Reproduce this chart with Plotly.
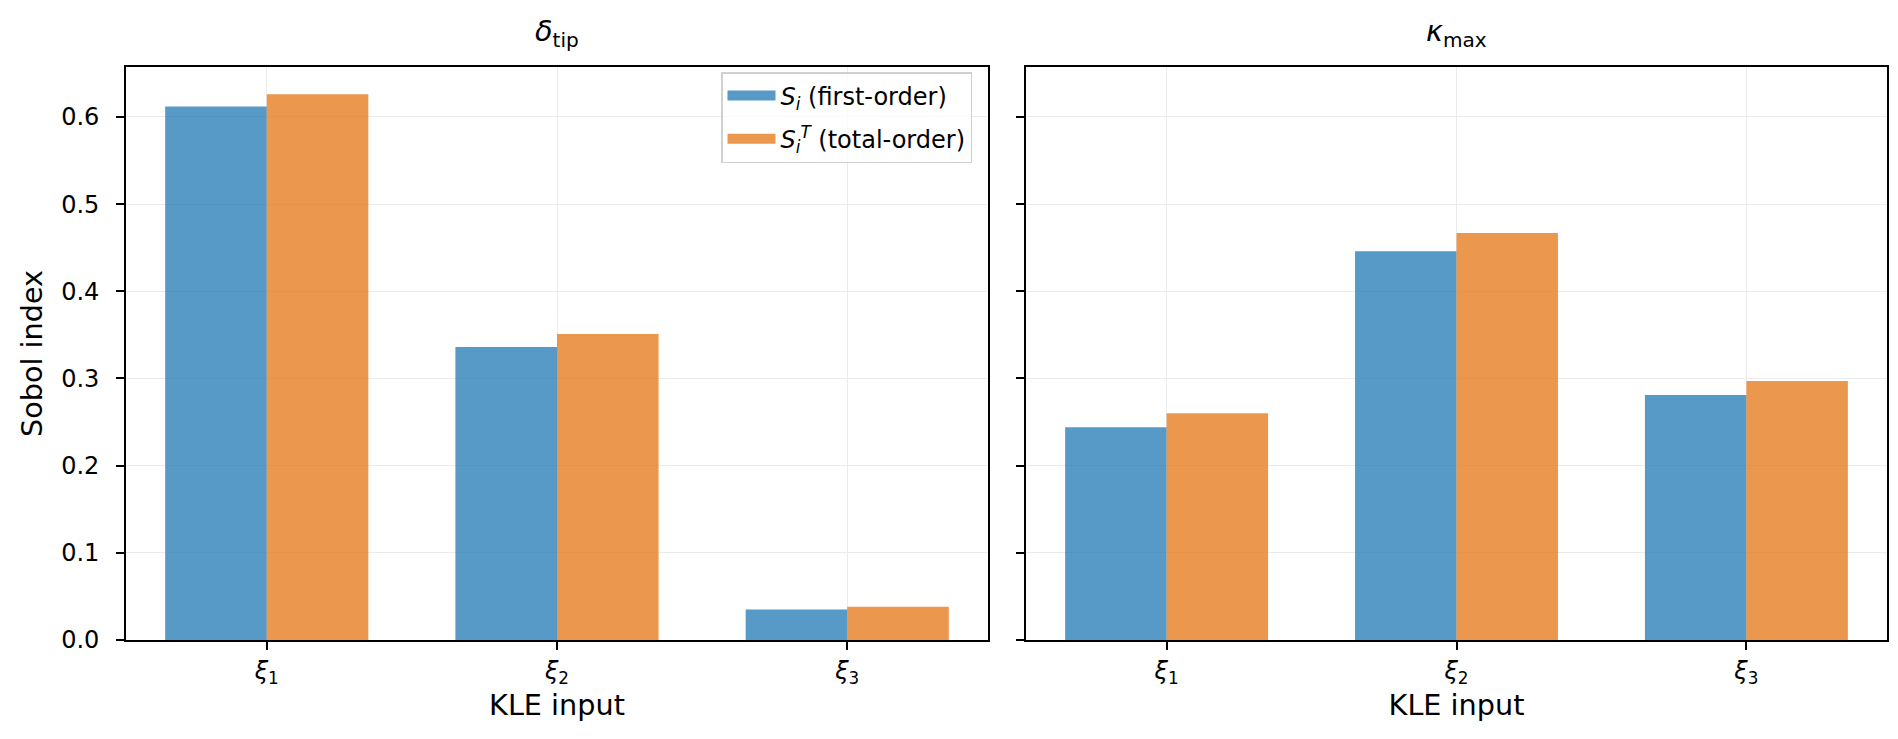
import plotly.graph_objects as go

categories = ["ξ1", "ξ2", "ξ3"]
tick_labels = ["<i>ξ</i><sub>1</sub>", "<i>ξ</i><sub>2</sub>", "<i>ξ</i><sub>3</sub>"]
positions = [0, 1, 2]

delta_first = [0.612, 0.336, 0.035]
delta_total = [0.626, 0.351, 0.038]
kappa_first = [0.244, 0.446, 0.281]
kappa_total = [0.260, 0.467, 0.297]

series_names = ["<i>S</i><sub><i>i</i></sub> (first-order)",
                "<i>S</i><sub><i>i</i></sub><sup><i>T</i></sup> (total-order)"]
panel_titles = ["<i>δ</i><sub>tip</sub>", "<i>κ</i><sub>max</sub>"]

W, H = 1898, 739
BLUE = "rgba(31,119,180,0.75)"
ORANGE = "rgba(230,126,34,0.8)"
FONT = "DejaVu Sans"

fig = go.Figure()
bw = 0.35
for i, (first, total) in enumerate([(delta_first, delta_total), (kappa_first, kappa_total)]):
    xa = "x" if i == 0 else "x2"
    ya = "y" if i == 0 else "y2"
    fig.add_trace(go.Bar(x=positions, y=first, width=bw, offset=-bw, marker_color=BLUE,
                         marker_line_width=0, name=series_names[0], showlegend=False,
                         xaxis=xa, yaxis=ya))
    fig.add_trace(go.Bar(x=positions, y=total, width=bw, offset=0, marker_color=ORANGE,
                         marker_line_width=0, name=series_names[1], showlegend=False,
                         xaxis=xa, yaxis=ya))

# legend entries (wide rectangular swatches like the reference)
for name, col, grp in zip(series_names, [BLUE, ORANGE], ["a", "b"]):
    fig.add_trace(go.Scatter(x=[None], y=[None], mode="lines", line=dict(color=col, width=17),
                             name=name, legendgroup=grp, showlegend=True, hoverinfo="skip"))

ymax = max(delta_total + kappa_total) * 1.05
dom_y = [1 - 632 / H, 1 - 59 / H]
dom_x1 = [118 / W, 980 / W]
dom_x2 = [1018 / W, 1879 / W]

axis_common = dict(showline=True, linecolor="black", linewidth=1.8, mirror=True,
                   ticks="outside", ticklen=8, tickwidth=1.6, tickcolor="black",
                   showgrid=True, gridcolor="#ebebeb", gridwidth=1.3, zeroline=False,
                   automargin=False, tickfont=dict(family=FONT, size=24, color="black"))

xaxis = dict(axis_common, range=[-0.485, 2.485], tickvals=positions, ticktext=tick_labels,
             title=dict(text="KLE input", font=dict(family=FONT, size=28.7, color="black"), standoff=3),
             ticklabelstandoff=0)
yaxis = dict(axis_common, range=[0, ymax], tickvals=[0, 0.1, 0.2, 0.3, 0.4, 0.5, 0.6],
             tickformat=".1f", ticklabelstandoff=12)

fig.update_layout(
    width=W, height=H,
    margin=dict(l=0, r=0, t=0, b=0),
    plot_bgcolor="white", paper_bgcolor="white",
    barmode="overlay",
    font=dict(family=FONT, color="black"),
    xaxis=dict(xaxis, domain=dom_x1, anchor="y"),
    xaxis2=dict(xaxis, domain=dom_x2, anchor="y2"),
    yaxis=dict(yaxis, domain=dom_y, anchor="x",
               title=dict(text="Sobol index", font=dict(family=FONT, size=28.7, color="black"), standoff=10)),
    yaxis2=dict(yaxis, domain=dom_y, anchor="x2", showticklabels=False, matches="y"),
    legend=dict(x=964 / W, y=1 - 64 / H, xanchor="right", yanchor="top",
                bgcolor="rgba(255,255,255,0.8)", bordercolor="#d0d0d0", borderwidth=1.5,
                font=dict(family=FONT, size=24, color="black"), traceorder="grouped",
                tracegroupgap=9, itemwidth=48),
    showlegend=True,
)

for title, dom in zip(panel_titles, [dom_x1, dom_x2]):
    fig.add_annotation(text=title, x=(dom[0] + dom[1]) / 2, y=dom_y[1], xref="paper", yref="paper",
                       xanchor="center", yanchor="bottom", yshift=13, showarrow=False,
                       font=dict(family=FONT, size=28.7, color="black"))

fig.write_html("out.html")
